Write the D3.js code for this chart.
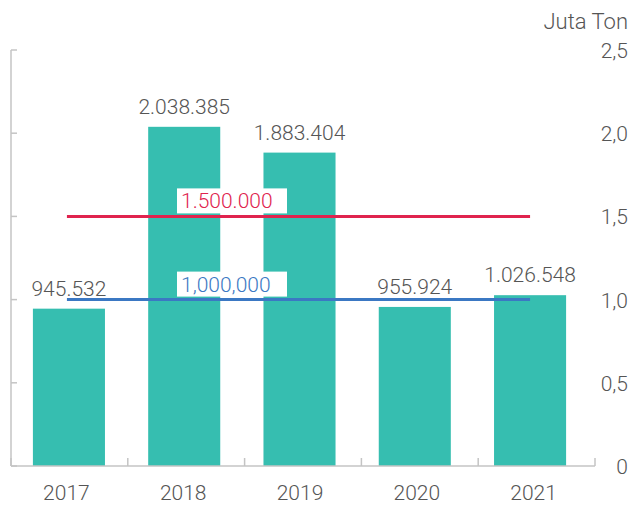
<!DOCTYPE html>
<html><head><meta charset="utf-8">
<script src="https://cdn.jsdelivr.net/npm/d3@7"></script>
<style>body{margin:0;background:#fff;}svg{display:block;font-family:Roboto,sans-serif;}</style>
</head><body>
<svg id="c" width="632" height="506"></svg>
<script>
const years = ["2017","2018","2019","2020","2021"];
const values = [945532, 2038385, 1883404, 955924, 1026548];
const valueLabels = ["945.532","2.038.385","1.883.404","955.924","1.026.548"];
const yTicks = [0, 0.5, 1.0, 1.5, 2.0, 2.5];
const yTickLabels = ["0","0,5","1,0","1,5","2,0","2,5"];
const refLines = [
  {value: 1500000, label: "1.500.000", color: "#e0234e"},
  {value: 1000000, label: "1,000,000", color: "#3b78c3"}
];
const unitLabel = "Juta Ton";

const svg = d3.select("#c");
// bars scale
const x = d3.scaleBand().domain(years).range([11, 588]).paddingInner(0.375).paddingOuter(0.19);
// axis scale (category boundaries)
const xa = d3.scaleBand().domain(years).range([11, 595]);
const y = d3.scaleLinear().domain([0, 2.5]).range([466, 50]);
const axisColor = "#c4c4c4";
const textColor = "#555";

// left axis line with ticks
const gL = svg.append("g");
gL.append("line").attr("x1",11).attr("x2",11).attr("y1",y(2.5)).attr("y2",y(0)).attr("stroke",axisColor).attr("stroke-width",1.5);
gL.selectAll("line.t").data(yTicks).join("line").attr("class","t")
  .attr("x1",11).attr("x2",17).attr("y1",d=>y(d)).attr("y2",d=>y(d)).attr("stroke",axisColor).attr("stroke-width",1.5);

// bars
svg.selectAll("rect.bar").data(values).join("rect").attr("class","bar")
  .attr("x",(d,i)=>x(years[i])).attr("width",x.bandwidth())
  .attr("y",d=>y(d/1e6)).attr("height",d=>y(0)-y(d/1e6))
  .attr("fill","#36beb0");

// bottom axis
const gB = svg.append("g");
gB.append("line").attr("x1",11).attr("x2",595).attr("y1",466).attr("y2",466).attr("stroke",axisColor).attr("stroke-width",1.5);
const tickXs = [...years.map(d=>xa(d)), 595];
gB.selectAll("line.t").data(tickXs).join("line").attr("class","t")
  .attr("x1",d=>d).attr("x2",d=>d).attr("y1",466).attr("y2",458).attr("stroke",axisColor).attr("stroke-width",1.5);
gB.selectAll("text").data(years).join("text")
  .attr("x",d=>xa(d)+xa.bandwidth()/2-3).attr("y",500).attr("text-anchor","middle")
  .attr("fill",textColor).attr("font-size",21).attr("font-weight",300).text(d=>d);

// right tick labels
svg.selectAll("text.yt").data(yTicks).join("text").attr("class","yt")
  .attr("x",628).attr("y",d=>y(d)+8).attr("text-anchor","end")
  .attr("fill",textColor).attr("font-size",21).attr("font-weight",300)
  .text((d,i)=>yTickLabels[i]);
svg.append("text").attr("x",628).attr("y",29).attr("text-anchor","end")
  .attr("fill",textColor).attr("font-size",22).attr("font-weight",300).text(unitLabel);

// value labels
svg.selectAll("text.vl").data(values).join("text").attr("class","vl")
  .attr("x",(d,i)=>x(years[i])+x.bandwidth()/2).attr("y",d=>y(d/1e6)-13)
  .attr("text-anchor","middle").attr("fill",textColor).attr("font-size",21).attr("font-weight",300)
  .text((d,i)=>valueLabels[i]);

// reference lines
const lx0 = x(years[0])+x.bandwidth()/2 - 2;
const lx1 = x(years[4])+x.bandwidth()/2;
refLines.forEach(r=>{
  const yy = y(r.value/1e6);
  svg.append("line").attr("x1",lx0).attr("x2",lx1).attr("y1",yy).attr("y2",yy)
    .attr("stroke",r.color).attr("stroke-width",3);
  svg.append("rect").attr("x",177).attr("y",yy-28).attr("width",110).attr("height",25).attr("fill","#fff");
  svg.append("text").attr("x",181).attr("y",yy-8).attr("fill",r.color)
    .attr("font-size",21).attr("font-weight",300).text(r.label);
});
</script>
</body></html>
